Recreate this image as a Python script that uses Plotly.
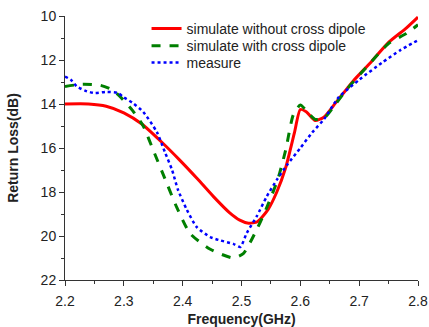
import plotly.graph_objects as go

red_x = [2.20, 2.24, 2.27, 2.30, 2.33, 2.365, 2.395, 2.425, 2.452, 2.48, 2.497, 2.512, 2.527, 2.545, 2.56, 2.575, 2.59, 2.60, 2.61, 2.625, 2.64, 2.66, 2.69, 2.72, 2.75, 2.78, 2.80]
red_y = [14.0, 14.0, 14.1, 14.4, 14.9, 15.75, 16.55, 17.4, 18.2, 18.95, 19.28, 19.42, 19.35, 18.8, 18.0, 16.9, 15.3, 14.25, 14.35, 14.75, 14.6, 13.95, 12.95, 12.1, 11.2, 10.55, 10.05]

green_x = [2.20, 2.23, 2.26, 2.28, 2.295, 2.315, 2.333, 2.35, 2.373, 2.39, 2.413, 2.447, 2.486, 2.503, 2.526, 2.543, 2.562, 2.575, 2.588, 2.60, 2.61, 2.625, 2.64, 2.66, 2.68, 2.71, 2.75, 2.78, 2.80]
green_y = [13.2, 13.1, 13.15, 13.35, 13.7, 14.3, 15.0, 16.1, 17.6, 18.7, 19.9, 20.6, 21.0, 20.8, 19.7, 18.7, 17.4, 16.1, 14.5, 14.05, 14.3, 14.7, 14.65, 14.0, 13.3, 12.4, 11.25, 10.8, 10.4]

blue_x = [2.20, 2.21, 2.22, 2.235, 2.25, 2.27, 2.29, 2.30, 2.315, 2.333, 2.356, 2.37, 2.382, 2.392, 2.407, 2.424, 2.447, 2.464, 2.486, 2.498, 2.509, 2.526, 2.543, 2.56, 2.578, 2.60, 2.62, 2.64, 2.665, 2.70, 2.74, 2.77, 2.80]
blue_y = [12.75, 12.9, 13.2, 13.4, 13.5, 13.45, 13.5, 13.7, 13.95, 14.36, 15.27, 16.2, 17.0, 17.9, 18.8, 19.6, 20.05, 20.2, 20.36, 20.5, 19.86, 19.1, 18.2, 17.45, 16.75, 16.0, 15.3, 14.7, 13.7, 12.9, 12.1, 11.55, 11.1]

names = ["simulate without cross dipole", "simulate with cross dipole", "measure"]

font_family = "Arial, Liberation Sans, sans-serif"

fig = go.Figure()
fig.add_trace(go.Scatter(x=red_x, y=red_y, mode="lines", name=names[0], legend="legend",
                         line=dict(color="#ff0000", width=3, shape="spline", smoothing=0.6)))
fig.add_trace(go.Scatter(x=green_x, y=green_y, mode="lines", name=names[1], legend="legend2",
                         line=dict(color="#007f00", width=3, dash="dash", shape="spline", smoothing=0.6)))
fig.add_trace(go.Scatter(x=blue_x, y=blue_y, mode="lines", name=names[2], legend="legend3",
                         line=dict(color="#0000ff", width=2.5, dash="dot", shape="spline", smoothing=0.6)))

axis_common = dict(showgrid=False, zeroline=False, showline=True, linecolor="#333333", linewidth=1,
                   ticks="outside", ticklen=5, tickcolor="#333333", tickwidth=1, automargin=False,
                   tickfont=dict(family=font_family, size=14, color="#222222"))

fig.update_xaxes(range=[2.2, 2.8], dtick=0.1, tick0=2.2, tickformat=".1f", ticklabelstandoff=3,
                 minor=dict(dtick=0.05, ticks="outside", ticklen=3, tickcolor="#333333"),
                 title=dict(text="<b>Frequency(GHz)</b>", font=dict(family=font_family, size=14, color="#222222"), standoff=14),
                 **axis_common)
fig.update_yaxes(range=[22, 10], dtick=2, tick0=10,
                 minor=dict(dtick=1, ticks="outside", ticklen=3, tickcolor="#333333"),
                 title=dict(text="<b>Return Loss(dB)</b>", font=dict(family=font_family, size=14, color="#222222"), standoff=18),
                 **axis_common)

leg_common = dict(x=0.231, xanchor="left", yanchor="middle", bgcolor="rgba(0,0,0,0)",
                  font=dict(family=font_family, size=14, color="#222222"))

fig.update_layout(
    width=429, height=327,
    margin=dict(l=65, r=11, t=16, b=47),
    plot_bgcolor="white", paper_bgcolor="white",
    showlegend=True,
    legend=dict(y=0.951, **leg_common),
    legend2=dict(y=0.886, **leg_common),
    legend3=dict(y=0.822, **leg_common),
)

fig.write_html("out.html")
